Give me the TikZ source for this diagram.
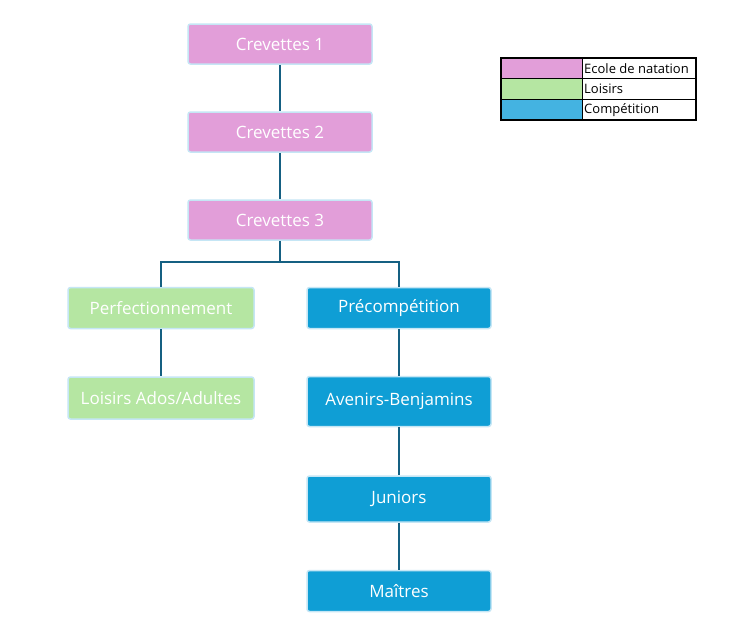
\documentclass[tikz,border=0pt]{standalone}
\usepackage{fontspec}
\setmainfont{Open Sans}
\definecolor{rose}{HTML}{E29ED9}
\definecolor{vert}{HTML}{B5E6A2}
\definecolor{bleu}{HTML}{0F9ED5}
\definecolor{bleuclair}{HTML}{44B3E1}
\definecolor{trait}{HTML}{156082}
\definecolor{bord}{HTML}{C5E6F5}

\begin{document}
\begin{tikzpicture}[x=1pt,y=-1pt,
  niveau/.style={draw=bord,line width=1.5pt,rounded corners=2.5pt,text=white,
    minimum width=184,minimum height=40,inner sep=0pt,font=\fontsize{17}{19}\selectfont},
  lien/.style={draw=trait,line width=1.5pt}]
\useasboundingbox[fill=white] (0,0) rectangle (746,643);
% colonne du haut
\node[niveau,fill=rose] (crev1) at (280,44) {Crevettes 1};
\node[niveau,fill=rose] (crev2) at (280,132) {Crevettes 2};
\node[niveau,fill=rose] (crev3) at (280,220) {Crevettes 3};
% loisirs
\node[niveau,fill=vert,minimum width=186,minimum height=41] (perf) at (161,308) {Perfectionnement};
\node[niveau,fill=vert,minimum width=186,minimum height=42] (ados) at (161,398) {Loisirs Ados/Adultes};
% competition
\node[niveau,fill=bleu,minimum height=41] (precomp) at (399,308) {Précompétition};
\node[niveau,fill=bleu,minimum height=50] (avenirs) at (399,401.5) {Avenirs-Benjamins};
\node[niveau,fill=bleu,minimum height=46] (juniors) at (399,499) {Juniors};
\node[niveau,fill=bleu,minimum height=41] (maitres) at (399,591) {Maîtres};
% liens
\coordinate (branche) at (280,262);
\draw[lien] (crev1) -- (crev2);
\draw[lien] (crev2) -- (crev3);
\draw[lien] (crev3) -- (branche);
\draw[lien] (perf.north) |- (branche) -| (precomp.north);
\draw[lien] (perf) -- (ados);
\draw[lien] (precomp) -- (avenirs);
\draw[lien] (avenirs) -- (juniors);
\draw[lien] (juniors) -- (maitres);
% legende
\foreach \couleur/\texte [count=\i] in {rose/Ecole de natation,vert/Loisirs,bleuclair/Compétition}
{
\fill[\couleur] (501,{58+(\i-1)*20.67}) rectangle (582,{58+\i*20.67});
\draw[line width=0.8pt] (501,{58+(\i-1)*20.67}) rectangle (696,{58+\i*20.67});
\draw[line width=0.8pt] (582,{58+(\i-1)*20.67}) -- (582,{58+\i*20.67});
\node[anchor=west,inner sep=0pt,font=\fontsize{13}{15}\selectfont] (leg\i) at (584,{58+(\i-0.5)*20.67}) {\texte};
}
\draw[line width=2pt] (501,58) rectangle (696,120);
\end{tikzpicture}
\end{document}
